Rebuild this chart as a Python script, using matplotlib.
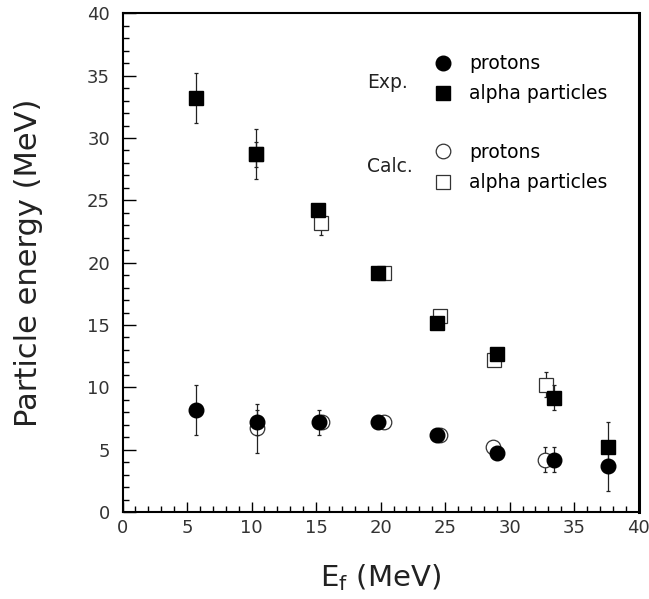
import numpy as np
import matplotlib
matplotlib.use("Agg")
import matplotlib.pyplot as plt
from matplotlib.ticker import MultipleLocator

# experimental values
exp_p_x = [5.7, 10.4, 15.25, 19.8, 24.4, 29.05, 33.4, 37.65]
exp_p_y = [8.2, 7.2, 7.2, 7.2, 6.2, 4.7, 4.2, 3.7]
exp_p_err = [2.0, 1.0, 1.0, 0, 0, 0, 1.0, 2.0]

exp_a_x = [5.7, 10.35, 15.15, 19.8, 24.35, 29.05, 33.4, 37.65]
exp_a_y = [33.2, 28.7, 24.2, 19.2, 15.2, 12.65, 9.15, 5.2]
exp_a_err = [2.0, 2.0, 0, 0, 0, 0, 1.0, 2.0]

# calculated values
calc_p_x = [10.4, 15.45, 20.25, 24.6, 28.7, 32.75]
calc_p_y = [6.7, 7.2, 7.2, 6.2, 5.2, 4.2]
calc_p_err = [2.0, 0, 0, 0, 0, 1.0]

calc_a_x = [10.35, 15.35, 20.25, 24.6, 28.75, 32.8]
calc_a_y = [28.7, 23.2, 19.2, 15.7, 12.2, 10.2]
calc_a_err = [1.0, 1.0, 0, 0, 0, 1.0]

fig = plt.figure(figsize=(6.49, 5.99), dpi=100)
ax = fig.add_axes([0.1888, 0.1452, 0.7953, 0.8326])


def errs(ax, x, y, e, z):
    x, y, e = np.array(x), np.array(y), np.array(e)
    m = e > 0
    ax.errorbar(x[m], y[m], yerr=e[m], fmt="none", ecolor="#222222",
                elinewidth=0.9, capsize=1.5, capthick=0.9, zorder=z)


# calc first (drawn under the experimental points)
errs(ax, calc_a_x, calc_a_y, calc_a_err, 1)
errs(ax, calc_p_x, calc_p_y, calc_p_err, 1)
ca, = ax.plot(calc_a_x, calc_a_y, "s", ms=10.5, mfc="white", mec="#333333",
              mew=0.9, ls="none", zorder=2)
cp, = ax.plot(calc_p_x, calc_p_y, "o", ms=10.5, mfc="white", mec="#333333",
              mew=0.9, ls="none", zorder=2)

errs(ax, exp_a_x, exp_a_y, exp_a_err, 3)
errs(ax, exp_p_x, exp_p_y, exp_p_err, 3)
ea, = ax.plot(exp_a_x, exp_a_y, "s", ms=10.5, color="black", ls="none", zorder=4)
ep, = ax.plot(exp_p_x, exp_p_y, "o", ms=10.5, color="black", ls="none", zorder=4)

ax.set_xlim(0, 40)
ax.set_ylim(0, 40)
ax.xaxis.set_major_locator(MultipleLocator(5))
ax.yaxis.set_major_locator(MultipleLocator(5))
ax.xaxis.set_minor_locator(MultipleLocator(1))
ax.yaxis.set_minor_locator(MultipleLocator(1))
ax.tick_params(which="both", direction="in", top=False, right=False,
               labelsize=13, width=1.0, colors="black")
ax.tick_params(axis="y", which="major", length=9, pad=9)
ax.tick_params(axis="y", which="minor", length=4)
ax.tick_params(axis="x", which="major", length=7, pad=5)
ax.tick_params(axis="x", which="minor", length=4)
for lbl in ax.get_xticklabels() + ax.get_yticklabels():
    lbl.set_color("#333333")
for s in ax.spines.values():
    s.set_linewidth(1.5)
ax.spines["right"].set_linewidth(2.2)

ax.set_ylabel("Particle energy (MeV)", fontsize=22, color="#222222", labelpad=32)
ax.set_xlabel(r"E$_\mathrm{f}$ (MeV)", fontsize=21, color="#222222", labelpad=18)

leg_kw = dict(loc="upper left", frameon=False, fontsize=13.5, handlelength=1.2,
              handletextpad=0.75, labelspacing=0.6, borderaxespad=0, borderpad=0)
leg1 = ax.legend([ep, ea], ["protons", "alpha particles"],
                 bbox_to_anchor=(0.6, 0.918), **leg_kw)
ax.add_artist(leg1)
ax.legend([cp, ca], ["protons", "alpha particles"],
          bbox_to_anchor=(0.6, 0.74), **leg_kw)
ax.text(0.473, 0.862, "Exp.", transform=ax.transAxes, fontsize=13.5,
        va="center", color="#222222")
ax.text(0.473, 0.692, "Calc.", transform=ax.transAxes, fontsize=13.5,
        va="center", color="#222222")

fig.savefig("out.png", dpi=100)
